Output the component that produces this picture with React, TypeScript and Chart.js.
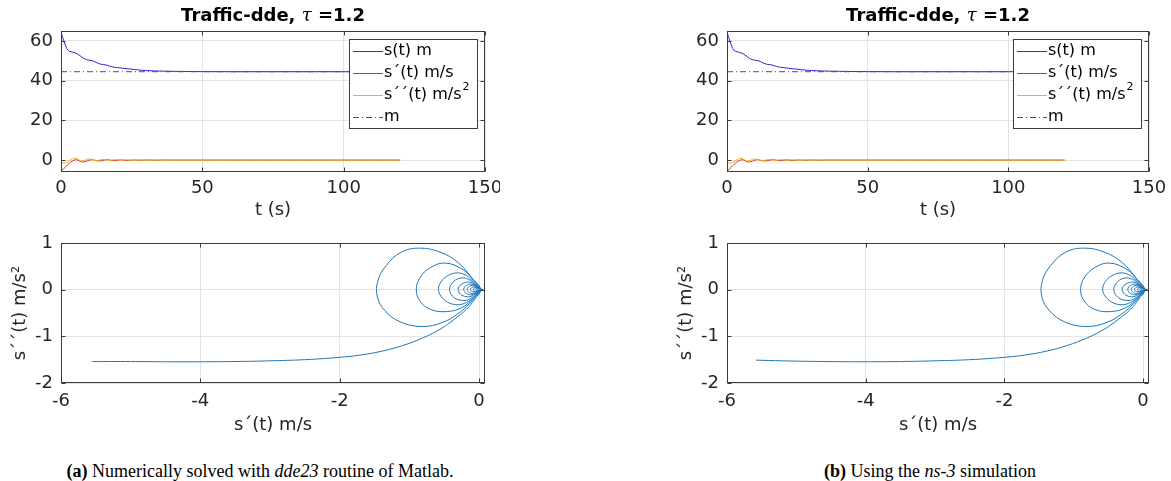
import React, { useEffect, useRef } from "react";
import { Chart, registerables } from "chart.js";
Chart.register(...registerables);

// ---------------- data ----------------
const titleParts = ["Traffic-dde, ", "τ", " =1.2"];

// s(t) distance
const tS = [0, 0.5, 1, 1.5, 2, 2.5, 3, 4, 5, 6, 7, 8, 9, 10, 11, 12, 13, 14, 15, 16, 17, 18, 19, 20, 22, 24, 26, 28, 30, 33, 36, 40, 45, 50, 60, 70, 80, 90, 100, 110, 120];
const sVals = [64.5, 62.2, 60, 58, 56.2, 55.2, 54.8, 54.4, 54.0, 53.3, 52.3, 51.2, 50.6, 50.3, 50.1, 49.5, 48.8, 48.3, 48.1, 47.9, 47.4, 47.0, 46.7, 46.6, 46.2, 45.9, 45.6, 45.3, 45.1, 44.9, 44.8, 44.7, 44.6, 44.55, 44.5, 44.5, 44.5, 44.5, 44.5, 44.5, 44.5];

// s'(t) and s''(t)
const tD = [0, 1, 2, 3, 4, 5, 5.5, 6, 6.5, 7, 8, 9, 10, 11, 12, 13, 14, 15, 16, 17, 18, 19, 20, 21, 22, 23, 24, 26, 28, 30, 33, 36, 40, 50, 60, 80, 100, 120];
const sd1Vals = [-5.5, -4.3, -2.9, -1.5, -0.5, 0.1, 0.2, 0.0, -0.5, -0.8, -0.9, -0.6, 0.0, 0.2, -0.1, -0.4, -0.4, -0.1, 0.2, 0.1, -0.2, -0.3, -0.1, 0.1, 0.0, -0.2, -0.1, 0.05, -0.1, 0.05, -0.05, 0.03, 0, 0, 0, 0, 0, 0];
const sd2Vals = [-1.4, -1.4, -1.2, -0.3, 0.6, 0.9, 0.8, 0.4, -0.1, -0.4, -0.3, 0.3, 0.55, 0.2, -0.3, -0.25, 0.15, 0.35, 0.1, -0.2, -0.05, 0.25, 0.1, -0.1, 0.0, 0.15, 0.05, -0.05, 0.08, -0.03, 0.04, -0.02, 0, 0, 0, 0, 0, 0];

// m (equilibrium)
const tM = [0, 120];
const mVals = [44.5, 44.5];

// phase plot: arm (a) and (b), then shared decaying loops
const armAX = [-5.55, -5.0, -4.5, -4.0, -3.5, -3.0, -2.5, -2.0, -1.7, -1.4, -1.1, -0.8, -0.55, -0.35, -0.18, -0.06];
const armAY = [-1.54, -1.54, -1.545, -1.545, -1.54, -1.525, -1.5, -1.45, -1.4, -1.32, -1.2, -1.03, -0.84, -0.63, -0.42, -0.2];
const armBX = [-5.58, -5.2, -4.6, -4.0, -3.5, -3.0, -2.5, -2.0, -1.7, -1.4, -1.1, -0.8, -0.55, -0.35, -0.18, -0.06];
const armBY = [-1.51, -1.525, -1.54, -1.545, -1.54, -1.525, -1.5, -1.45, -1.4, -1.32, -1.2, -1.03, -0.84, -0.63, -0.42, -0.2];

const loopX = [
  0.02, -0.1, -0.3, -0.55, -0.85, -1.12, -1.33, -1.45, -1.46, -1.35, -1.13, -0.82, -0.52, -0.27, -0.09,
  0.02, -0.08, -0.22, -0.48, -0.7, -0.85, -0.9, -0.85, -0.7, -0.47, -0.24, -0.08,
  0.02, -0.07, -0.18, -0.32, -0.47, -0.56, -0.58, -0.53, -0.42, -0.28, -0.15, -0.05,
  0.02, -0.06, -0.15, -0.26, -0.36, -0.42, -0.4, -0.32, -0.2, -0.1, -0.03,
  0.02, -0.05, -0.13, -0.22, -0.29, -0.29, -0.23, -0.14, -0.06,
  0.02, -0.04, -0.11, -0.18, -0.22, -0.19, -0.12, -0.05,
  0.02, -0.04, -0.09, -0.14, -0.17, -0.14, -0.08, -0.03,
  0.02, -0.03, -0.08, -0.12, -0.11, -0.07, -0.02,
  0.03, -0.02, -0.06, -0.08, -0.06, -0.02,
  0.03, 0.0, -0.04, -0.04, 0.0, 0.04, 0.02, -0.02, -0.02, 0.02, 0.05, 0.03, 0.01, 0.03, 0.05, 0.06, 0.04, 0.06, 0.05,
];
const loopY = [
  0.0, 0.25, 0.58, 0.8, 0.89, 0.8, 0.52, 0.2, -0.15, -0.45, -0.69, -0.79, -0.7, -0.48, -0.22,
  0, 0.2, 0.42, 0.57, 0.47, 0.25, 0.0, -0.24, -0.42, -0.47, -0.38, -0.18,
  0, 0.15, 0.3, 0.36, 0.28, 0.13, -0.02, -0.17, -0.29, -0.32, -0.25, -0.12,
  0, 0.12, 0.22, 0.25, 0.18, 0.04, -0.1, -0.2, -0.23, -0.17, -0.08,
  0, 0.1, 0.16, 0.14, 0.06, -0.05, -0.13, -0.15, -0.1,
  0, 0.08, 0.12, 0.09, 0.01, -0.07, -0.11, -0.07,
  0, 0.06, 0.09, 0.07, 0.0, -0.06, -0.08, -0.05,
  0, 0.05, 0.06, 0.02, -0.03, -0.05, -0.03,
  0, 0.04, 0.04, 0, -0.04, -0.04,
  0, 0.03, 0.02, -0.02, -0.03, 0, 0.02, 0.01, -0.01, -0.02, 0, 0.01, 0, -0.01, 0, 0.01, 0, -0.01, 0,
];

const topXTicks = [0, 50, 100, 150];
const topYTicks = [0, 20, 40, 60];
const botXTicks = [-6, -4, -2, 0];
const botYTicks = [-2, -1, 0, 1];

const legendLabels = ["s(t) m", "s´(t) m/s", "s´´(t) m/s", "m"];
const legendSup = ["", "", "2", ""];
const seriesColors = ["#2b2bd0", "#d92b2b", "#edb120", "#7e2f8e"];
const phaseColor = "#1f77b8";

const topXTitle = "t (s)";
const botXTitle = "s´(t) m/s";
const botYTitle = "s´´(t) m/s²";

// ---------------- styling ----------------
const FONT = '"DejaVu Sans", sans-serif';
const TICK_COLOR = "#262626";
const GRID_COLOR = "#e3e3e3";
const AXIS_COLOR = "#3a3a3a";
const TICK_SIZE = 18;

const pts = (xs: number[], ys: number[]) => xs.map((x, i) => ({ x, y: ys[i] }));

function decorPlugin(opts: { title: boolean; legend: boolean; titleY: number }) {
  return {
    id: "matlabDecor",
    afterDatasetsDraw(chart: any) {
      const { ctx, chartArea: a } = chart;
      const xs = chart.scales.x;
      const ys = chart.scales.y;
      const L = Math.round(a.left) + 0.5;
      const R = Math.round(a.right) - 0.5;
      const T = Math.round(a.top) + 0.5;
      const B = Math.round(a.bottom) - 0.5;
      ctx.save();
      // legend
      if (opts.legend) {
        const bw = 128, bh = 89;
        const bx = Math.round(a.right) - 8 - bw;
        const by = Math.round(a.top) + 8;
        ctx.fillStyle = "#ffffff";
        ctx.fillRect(bx, by, bw, bh);
        ctx.strokeStyle = AXIS_COLOR;
        ctx.lineWidth = 1;
        ctx.setLineDash([]);
        ctx.strokeRect(bx + 0.5, by + 0.5, bw, bh);
        const rowY = [12, 33.5, 55.5, 78];
        legendLabels.forEach((lab, i) => {
          const y = by + rowY[i];
          ctx.strokeStyle = seriesColors[i];
          ctx.lineWidth = 1;
          ctx.setLineDash(i === 3 ? [6, 3, 1, 3] : []);
          ctx.beginPath();
          ctx.moveTo(bx + 4, Math.round(y) + 0.5);
          ctx.lineTo(bx + 34, Math.round(y) + 0.5);
          ctx.stroke();
          ctx.setLineDash([]);
          ctx.fillStyle = "#000";
          ctx.font = `16px ${FONT}`;
          ctx.textBaseline = "middle";
          ctx.textAlign = "left";
          ctx.fillText(lab, bx + 35, y);
          if (legendSup[i]) {
            const w = ctx.measureText(lab).width;
            ctx.font = `11px ${FONT}`;
            ctx.fillText(legendSup[i], bx + 35 + w + 1, y - 7);
          }
        });
      }
      // box and inward ticks
      ctx.strokeStyle = AXIS_COLOR;
      ctx.lineWidth = 1;
      ctx.setLineDash([]);
      ctx.beginPath();
      const len = 4;
      xs.ticks.forEach((t: any) => {
        const p = Math.round(xs.getPixelForValue(t.value)) + 0.5;
        ctx.moveTo(p, B);
        ctx.lineTo(p, B - len);
        ctx.moveTo(p, T);
        ctx.lineTo(p, T + len);
      });
      ys.ticks.forEach((t: any) => {
        const p = Math.round(ys.getPixelForValue(t.value)) + 0.5;
        ctx.moveTo(L, p);
        ctx.lineTo(L + len, p);
        ctx.moveTo(R, p);
        ctx.lineTo(R - len, p);
      });
      ctx.stroke();
      ctx.strokeRect(L, T, R - L, B - T);
      // title
      if (opts.title) {
        const fonts = [`bold 18px ${FONT}`, `italic 18px "DejaVu Serif", serif`, `bold 18px ${FONT}`];
        const widths = titleParts.map((p, i) => {
          ctx.font = fonts[i];
          return ctx.measureText(p).width;
        });
        const total = widths.reduce((s, w) => s + w, 0);
        let x = (a.left + a.right) / 2 - total / 2;
        ctx.fillStyle = "#000";
        ctx.textBaseline = "middle";
        ctx.textAlign = "left";
        titleParts.forEach((p, i) => {
          ctx.font = fonts[i];
          ctx.fillText(p, x, opts.titleY);
          x += widths[i];
        });
      }
      ctx.restore();
    },
  };
}

type Geo = { W: number; H: number; l: number; t: number; r: number; b: number };

function baseScales(
  geo: Geo,
  x: { min: number; max: number; ticks: number[]; title: string; pad: number; titlePad: number },
  y: { min: number; max: number; ticks: number[]; title?: string; titlePad?: number }
) {
  return {
    x: {
      type: "linear",
      min: x.min,
      max: x.max,
      afterBuildTicks: (s: any) => {
        s.ticks = x.ticks.map((v) => ({ value: v }));
      },
      afterFit: (s: any) => {
        s.height = geo.H - geo.b;
        s.paddingLeft = 0;
        s.paddingRight = 0;
      },
      grid: { color: GRID_COLOR, drawTicks: false, lineWidth: 1 },
      border: { display: false },
      ticks: {
        color: TICK_COLOR,
        font: { family: FONT, size: TICK_SIZE },
        padding: x.pad,
        maxRotation: 0,
        autoSkip: false,
        callback: (v: any) => String(v),
      },
      title: {
        display: true,
        text: x.title,
        color: TICK_COLOR,
        font: { family: FONT, size: TICK_SIZE },
        padding: { top: 0, bottom: x.titlePad },
      },
    },
    y: {
      type: "linear",
      min: y.min,
      max: y.max,
      afterBuildTicks: (s: any) => {
        s.ticks = y.ticks.map((v) => ({ value: v }));
      },
      afterFit: (s: any) => {
        s.width = geo.l;
        s.paddingTop = 0;
        s.paddingBottom = 0;
      },
      grid: { color: GRID_COLOR, drawTicks: false, lineWidth: 1 },
      border: { display: false },
      ticks: {
        color: TICK_COLOR,
        font: { family: FONT, size: TICK_SIZE },
        padding: 8,
        autoSkip: false,
        callback: (v: any) => String(v),
      },
      title: {
        display: !!y.title,
        text: y.title || "",
        color: TICK_COLOR,
        font: { family: FONT, size: TICK_SIZE },
        padding: { top: y.titlePad ?? 0, bottom: 0 },
      },
    },
  };
}

function commonOptions(geo: Geo, scales: any) {
  return {
    responsive: false,
    animation: false,
    events: [],
    layout: { padding: { left: 0, top: geo.t, right: geo.W - geo.r, bottom: 0 } },
    plugins: { legend: { display: false }, title: { display: false }, tooltip: { enabled: false } },
    scales,
  };
}

function topConfig(geo: Geo) {
  return {
    type: "line",
    data: {
      datasets: [
        { data: pts(tS, sVals), borderColor: seriesColors[0], borderWidth: 1, pointRadius: 0, tension: 0, order: 4 },
        { data: pts(tD, sd1Vals), borderColor: seriesColors[1], borderWidth: 1, pointRadius: 0, tension: 0.3, order: 3 },
        { data: pts(tD, sd2Vals), borderColor: seriesColors[2], borderWidth: 1, pointRadius: 0, tension: 0.3, order: 2 },
        { data: pts(tM, mVals), borderColor: seriesColors[3], borderWidth: 1, pointRadius: 0, borderDash: [6, 3, 1, 3], order: 1 },
      ],
    },
    options: commonOptions(
      geo,
      baseScales(
        geo,
        { min: 0, max: 150, ticks: topXTicks, title: topXTitle, pad: 6, titlePad: 5 },
        { min: -6, max: 65, ticks: topYTicks }
      )
    ),
    plugins: [decorPlugin({ title: true, legend: true, titleY: 16 })],
  };
}

function botConfig(geo: Geo, armX: number[], armY: number[]) {
  return {
    type: "line",
    data: {
      datasets: [
        {
          data: pts(armX.concat(loopX), armY.concat(loopY)),
          borderColor: phaseColor,
          borderWidth: 1,
          pointRadius: 0,
          tension: 0.4,
        },
      ],
    },
    options: commonOptions(
      geo,
      baseScales(
        geo,
        { min: -6, max: 0.086, ticks: botXTicks, title: botXTitle, pad: 8, titlePad: 4 },
        { min: -2, max: 1, ticks: botYTicks, title: botYTitle, titlePad: 10 }
      )
    ),
    plugins: [decorPlugin({ title: false, legend: false, titleY: 0 })],
  };
}

function Panel({ left, top, geo, config }: { left: number; top: number; geo: Geo; config: () => any }) {
  const ref = useRef<HTMLCanvasElement>(null);
  useEffect(() => {
    const chart = new Chart(ref.current as HTMLCanvasElement, config() as any);
    return () => chart.destroy();
  }, []);
  return (
    <canvas
      ref={ref}
      width={geo.W}
      height={geo.H}
      style={{ position: "absolute", left, top, width: geo.W, height: geo.H }}
    />
  );
}

const geoTL: Geo = { W: 500, H: 226, l: 61, t: 31, r: 485, b: 172 };
const geoBL: Geo = { W: 500, H: 214, l: 61, t: 17, r: 485, b: 157 };
const geoTR: Geo = { W: 505, H: 226, l: 61, t: 31, r: 483, b: 172 };
const geoBR: Geo = { W: 505, H: 214, l: 61, t: 17, r: 483, b: 157 };

const capStyle: React.CSSProperties = {
  position: "absolute",
  top: 462,
  width: 600,
  textAlign: "center",
  fontFamily: '"Liberation Serif", "Times New Roman", serif',
  fontSize: 18,
  lineHeight: "18px",
  color: "#000",
  whiteSpace: "nowrap",
};

export default function App() {
  return (
    <div style={{ position: "fixed", left: 0, top: 0, width: 1171, height: 481, background: "#fff", overflow: "hidden" }}>
      <Panel left={0} top={0} geo={geoTL} config={() => topConfig(geoTL)} />
      <Panel left={0} top={226} geo={geoBL} config={() => botConfig(geoBL, armAX, armAY)} />
      <Panel left={666} top={0} geo={geoTR} config={() => topConfig(geoTR)} />
      <Panel left={666} top={226} geo={geoBR} config={() => botConfig(geoBR, armBX, armBY)} />
      <div style={{ ...capStyle, left: 260 - 300 }}>
        <b>(a)</b> Numerically solved with <i>dde23</i> routine of Matlab.
      </div>
      <div style={{ ...capStyle, left: 930 - 300 }}>
        <b>(b)</b> Using the <i>ns-3</i> simulation
      </div>
    </div>
  );
}
